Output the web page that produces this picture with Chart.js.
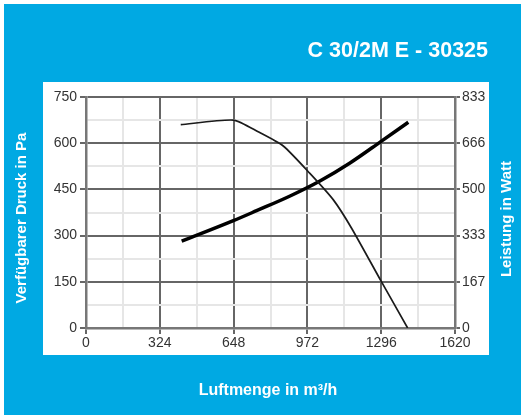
<!DOCTYPE html>
<html>
<head>
<meta charset="utf-8">
<script src="https://cdn.jsdelivr.net/npm/chart.js@4/dist/chart.umd.min.js"></script>
<style>
html, body { margin: 0; padding: 0; background: #fff; }
canvas { display: block; }
</style>
</head>
<body>
<canvas id="myChart" width="524" height="418"></canvas>
<script>
var title = 'C 30/2M E - 30325';
var xTitle = 'Luftmenge in m³/h';
var yTitleLeft = 'Verfügbarer Druck in Pa';
var yTitleRight = 'Leistung in Watt';

// pressure curve (left axis, Pa)
var pressureFlow = [416, 648, 756, 866, 983, 1086, 1166, 1295, 1412];
var pressureValues = [660, 675, 637, 591, 502, 416, 324, 153, 0];

// power curve (right axis, Watt)
var powerFlow = [420, 647, 749, 896, 1027, 1159, 1294, 1415];
var powerValues = [313, 387, 423, 476, 530, 595, 672, 742];

var xMax = 1620, xStep = 324;
var pressureMax = 750, pressureStep = 150;
var powerMax = 833;
var powerLabels = ['0', '167', '333', '500', '666', '833'];

var blue = '#00a9e3';
var major = '#666666';
var minor = '#e6e6e6';

function toPoints(xs, ys) {
    var pts = [];
    for (var i in xs) {
        pts.push({ x: xs[i], y: ys[i] });
    }
    return pts;
}

Chart.defaults.font.family = '"Liberation Sans", Arial, sans-serif';
Chart.defaults.font.size = 14;
Chart.defaults.color = '#333';

var framePlugin = {
    id: 'frame',
    beforeDraw: function(chart) {
        var c = chart.ctx;
        c.save();
        c.fillStyle = '#fff';
        c.fillRect(0, 0, 524, 418);
        c.fillStyle = blue;
        c.fillRect(4, 4, 517, 411);
        c.fillStyle = '#fff';
        c.fillRect(43, 82, 446, 273);
        c.restore();
    },
    afterDraw: function(chart) {
        var c = chart.ctx;
        c.save();
        c.fillStyle = '#fff';
        c.textBaseline = 'alphabetic';
        c.font = 'bold 21.5px "Liberation Sans", Arial, sans-serif';
        c.textAlign = 'right';
        c.fillText(title, 488, 57);

        c.font = 'bold 16px "Liberation Sans", Arial, sans-serif';
        c.textAlign = 'center';
        c.fillText(xTitle, 268, 395);

        c.font = 'bold 15px "Liberation Sans", Arial, sans-serif';
        c.textBaseline = 'middle';
        c.translate(22, 218);
        c.rotate(-Math.PI / 2);
        c.fillText(yTitleLeft, 0, 0);
        c.restore();

        c.save();
        c.fillStyle = '#fff';
        c.font = 'bold 15px "Liberation Sans", Arial, sans-serif';
        c.textAlign = 'center';
        c.textBaseline = 'middle';
        c.translate(507, 219);
        c.rotate(-Math.PI / 2);
        c.fillText(yTitleRight, 0, 0);
        c.restore();
    }
};

var ctx = document.getElementById('myChart').getContext('2d');
var chart = new Chart(ctx, {
    type: 'line',
    data: {
        datasets: [{
            label: 'Druck',
            data: toPoints(pressureFlow, pressureValues),
            borderColor: '#1a1a1a',
            borderWidth: 1.7,
            pointRadius: 0,
            tension: 0.2,
            yAxisID: 'y'
        }, {
            label: 'Leistung',
            data: toPoints(powerFlow, powerValues),
            borderColor: '#000',
            borderWidth: 3.5,
            pointRadius: 0,
            cubicInterpolationMode: 'monotone',
            yAxisID: 'y1'
        }]
    },
    options: {
        responsive: false,
        animation: false,
        layout: { padding: { left: 0, right: 0, top: 97, bottom: 70 } },
        plugins: { legend: { display: false }, tooltip: { enabled: false } },
        scales: {
            x: {
                type: 'linear',
                min: 0,
                max: xMax,
                afterFit: function(s) { s.height = 20; },
                ticks: {
                    stepSize: xStep / 2,
                    padding: 1,
                    maxRotation: 0,
                    autoSkip: false,
                    callback: function(v) { return v % xStep === 0 ? v : ''; }
                },
                grid: {
                    tickLength: 6,
                    lineWidth: 2,
                    color: function(c) { return c.tick && c.tick.value % xStep === 0 ? major : minor; },
                    tickColor: function(c) { return c.tick && c.tick.value % xStep === 0 ? major : 'rgba(0,0,0,0)'; }
                },
                border: { color: '#777', width: 2.5 }
            },
            y: {
                position: 'left',
                min: 0,
                max: pressureMax,
                afterFit: function(s) { s.width = 86; },
                ticks: {
                    stepSize: pressureStep / 2,
                    padding: 3,
                    autoSkip: false,
                    callback: function(v) { return v % pressureStep === 0 ? v : ''; }
                },
                grid: {
                    tickLength: 6,
                    lineWidth: 2,
                    color: function(c) { return c.tick && c.tick.value % pressureStep === 0 ? major : minor; },
                    tickColor: function(c) { return c.tick && c.tick.value % pressureStep === 0 ? major : 'rgba(0,0,0,0)'; }
                },
                border: { color: '#777', width: 2.5 }
            },
            y1: {
                position: 'right',
                min: 0,
                max: powerMax,
                afterFit: function(s) { s.width = 69; },
                afterBuildTicks: function(s) {
                    var t = [];
                    for (var i = 0; i <= 10; i++) t.push({ value: powerMax * i / 10 });
                    s.ticks = t;
                },
                ticks: {
                    padding: 2,
                    autoSkip: false,
                    callback: function(v, i) { return i % 2 === 0 ? powerLabels[i / 2] : ''; }
                },
                grid: {
                    drawOnChartArea: false,
                    tickLength: 5,
                    lineWidth: 2,
                    tickColor: function(c) { return c.index % 2 === 0 ? major : 'rgba(0,0,0,0)'; }
                },
                border: { color: '#777', width: 2.5 }
            }
        }
    },
    plugins: [framePlugin]
});
</script>
</body>
</html>
